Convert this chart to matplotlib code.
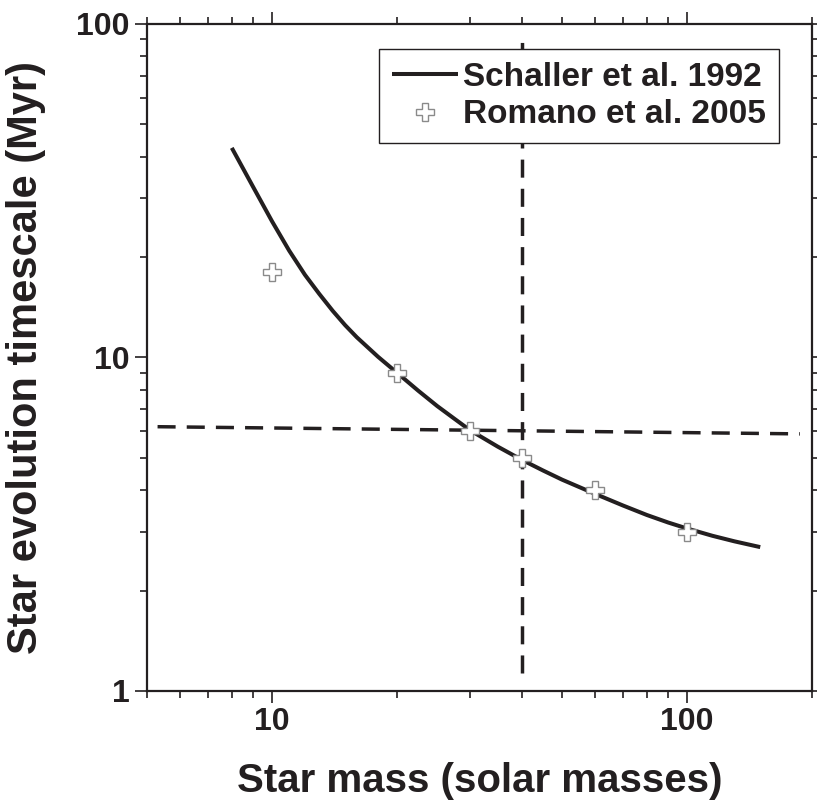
import matplotlib
matplotlib.use("Agg")
import matplotlib.pyplot as plt
from matplotlib.ticker import FuncFormatter, NullFormatter, LogLocator

# Schaller et al. 1992 lifetime curve
schaller_mass = [8, 9, 10, 11, 12, 13, 14, 15, 16, 18, 20, 22.5, 25, 27.5,
                 30, 35, 40, 45, 50, 60, 70, 80, 90, 100, 115, 130, 150]
schaller_time = [42.5, 32.5, 25.6, 20.9, 17.7, 15.5, 13.8, 12.5, 11.5, 10.05,
                 9.0, 7.95, 7.15, 6.55, 6.05, 5.4, 4.93, 4.58, 4.3, 3.9, 3.6,
                 3.37, 3.2, 3.07, 2.92, 2.81, 2.70]

# Romano et al. 2005 points
romano_mass = [10, 20, 30, 40, 60, 100]
romano_time = [18, 9, 6, 5, 4, 3]

# guide lines
hline_mass = [5.3, 187]
hline_time = [6.2, 5.9]
vline_mass = [40, 40]
vline_time = [1.13, 92]

ink = "#231f20"
plt.rcParams["font.family"] = ["Liberation Sans", "DejaVu Sans"]
plt.rcParams["font.weight"] = "bold"

fig = plt.figure(figsize=(8.17, 8.06), dpi=100)
ax = fig.add_axes([0.180, 0.1427, 0.814, 0.8276])

dash = (0, (5.2, 3.2))
ax.plot(hline_mass, hline_time, color=ink, lw=2.5, ls=dash)
ax.plot(vline_mass, vline_time, color=ink, lw=2.5, ls=dash)
ax.plot(schaller_mass, schaller_time, color=ink, lw=2.9,
        solid_capstyle="butt", label="Schaller et al. 1992", zorder=3)
ax.plot(romano_mass, romano_time, ls="none", marker="P", ms=13,
        mfc="white", mec="#8a8a8a", mew=1.0, label="Romano et al. 2005", zorder=4)

ax.set_xscale("log")
ax.set_yscale("log")
ax.set_xlim(5, 200)
ax.set_ylim(1, 100)

fmt = FuncFormatter(lambda v, _: f"{v:g}")
for axis in (ax.xaxis, ax.yaxis):
    axis.set_major_locator(LogLocator(base=10))
    axis.set_minor_locator(LogLocator(base=10, subs=range(2, 10)))
    axis.set_major_formatter(fmt)
    axis.set_minor_formatter(NullFormatter())

ax.tick_params(which="both", direction="out", top=True, right=True,
               color=ink, labelcolor=ink, labelsize=23, width=1.2)
ax.tick_params(which="major", length=8.6)
ax.tick_params(which="minor", length=5)
ax.tick_params(axis="x", pad=3)
ax.tick_params(axis="y", pad=4)
for s in ax.spines.values():
    s.set_linewidth(1.6)
    s.set_color(ink)

ax.set_xlabel("Star mass (solar masses)", fontsize=29, fontweight="bold",
              color=ink, labelpad=18)
ax.set_ylabel("Star evolution timescale (Myr)", fontsize=30, fontweight="bold",
              color=ink, labelpad=22)

leg = ax.legend(loc="upper right", bbox_to_anchor=(0.950, 0.9625),
                borderaxespad=0, fancybox=False, framealpha=1, edgecolor=ink,
                fontsize=24, handlelength=2.0, handletextpad=0.15,
                numpoints=1, borderpad=0.38, labelspacing=0.2)
leg.get_frame().set_linewidth(1.0)
for t in leg.get_texts():
    t.set_color(ink)

fig.savefig("out.png", dpi=100)
